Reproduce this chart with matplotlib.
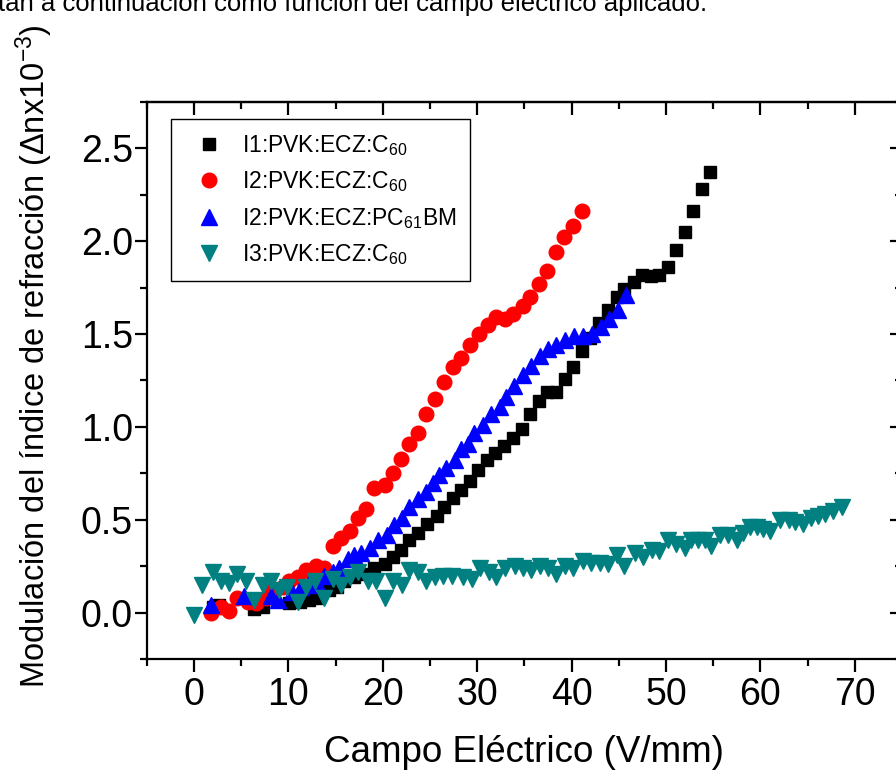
import numpy as np
import matplotlib
matplotlib.use("Agg")
import matplotlib.pyplot as plt
from matplotlib.ticker import MultipleLocator

plt.rcParams['font.family'] = ['Liberation Sans', 'DejaVu Sans']
plt.rcParams['mathtext.fontset'] = 'custom'
plt.rcParams['mathtext.rm'] = 'Liberation Sans'
plt.rcParams['mathtext.it'] = 'Liberation Sans:italic'
plt.rcParams['mathtext.bf'] = 'Liberation Sans:bold'

# I1:PVK:ECZ:C60 (black squares)
x_i1 = [2.0, 2.7, 6.4, 7.3, 10.1, 11.2, 12.2, 12.9, 14.3, 15.1, 15.9, 17.0, 18.2, 19.1,
        20.2, 21.1, 21.9, 22.8, 23.7, 24.7, 25.7, 26.5, 27.4, 28.3, 29.2, 30.1, 31.0,
        31.9, 32.8, 33.8, 34.7, 35.6, 36.5, 37.4, 38.4, 39.3, 40.2, 41.1, 42.0, 42.9,
        43.9, 44.8, 45.6, 46.6, 47.5, 48.4, 49.3, 50.2, 51.1, 52.0, 52.9, 53.8, 54.7]
y_i1 = [0.03, 0.04, 0.02, 0.03, 0.05, 0.06, 0.07, 0.08, 0.12, 0.14, 0.17, 0.19, 0.21, 0.24,
        0.26, 0.30, 0.34, 0.39, 0.43, 0.48, 0.52, 0.57, 0.62, 0.66, 0.71, 0.77, 0.82,
        0.86, 0.90, 0.94, 0.99, 1.07, 1.14, 1.19, 1.19, 1.26, 1.32, 1.41, 1.48, 1.56,
        1.63, 1.70, 1.74, 1.78, 1.82, 1.81, 1.82, 1.86, 1.95, 2.05, 2.16, 2.28, 2.37]

# I2:PVK:ECZ:C60 (red circles)
x_i2 = [1.8, 2.9, 3.7, 4.6, 5.7, 6.6, 7.6, 8.3, 9.4, 10.1, 11.0, 11.9, 12.9, 13.8,
        14.7, 15.6, 16.5, 17.4, 18.2, 19.1, 20.2, 21.1, 21.9, 22.8, 23.7, 24.6, 25.5,
        26.5, 27.4, 28.3, 29.2, 30.2, 31.1, 32.0, 32.9, 33.8, 34.8, 35.6, 36.5, 37.4,
        38.3, 39.2, 40.2, 41.1]
y_i2 = [0.00, 0.03, 0.01, 0.08, 0.06, 0.05, 0.08, 0.12, 0.14, 0.17, 0.19, 0.23, 0.25, 0.24,
        0.36, 0.40, 0.44, 0.51, 0.56, 0.67, 0.69, 0.75, 0.83, 0.91, 0.97, 1.07, 1.15,
        1.24, 1.32, 1.37, 1.44, 1.50, 1.55, 1.59, 1.58, 1.61, 1.65, 1.70, 1.77, 1.84,
        1.94, 2.02, 2.08, 2.16]

# I2:PVK:ECZ:PC61BM (blue triangles)
x_i2b = [1.8, 5.3, 8.2, 8.9, 10.4, 11.3, 12.1, 12.9, 13.8, 14.7, 15.4, 16.3, 17.0, 17.7,
         18.6, 19.5, 20.4, 21.2, 22.0, 22.8, 23.7, 24.6, 25.3, 26.0, 26.7, 27.6, 28.3,
         29.0, 29.7, 30.6, 31.5, 32.4, 33.0, 33.9, 34.9, 35.7, 36.6, 37.5, 38.4, 39.3,
         40.3, 41.2, 42.2, 43.1, 44.0, 44.9, 45.8]
y_i2b = [0.04, 0.09, 0.09, 0.07, 0.11, 0.14, 0.15, 0.17, 0.20, 0.22, 0.24, 0.29, 0.31, 0.32,
         0.35, 0.39, 0.42, 0.47, 0.51, 0.57, 0.61, 0.65, 0.70, 0.74, 0.78, 0.82, 0.88,
         0.91, 0.97, 1.01, 1.07, 1.11, 1.16, 1.22, 1.28, 1.33, 1.38, 1.42, 1.44, 1.47,
         1.49, 1.49, 1.50, 1.54, 1.58, 1.63, 1.71]

# I3:PVK:ECZ:C60 (teal down triangles)
x_i3 = [0.0, 0.9, 2.0, 2.9, 3.7, 4.6, 5.5, 6.4, 7.3, 8.2, 9.0, 9.9, 11.0, 11.9, 12.8,
        13.8, 14.7, 15.6, 16.5, 17.4, 18.4, 19.3, 20.2, 21.1, 22.0, 22.8, 23.7, 24.6,
        25.5, 26.4, 27.3, 28.5, 29.4, 30.3, 31.2, 32.0, 32.9, 34.0, 34.9, 35.7, 36.6,
        37.5, 38.4, 39.3, 40.2, 41.2, 42.1, 43.0, 43.9, 44.8, 45.6, 46.7, 47.6, 48.5,
        49.3, 50.2, 51.1, 52.0, 52.7, 53.4, 54.1, 54.8, 55.7, 56.6, 57.5, 58.2, 58.9,
        59.6, 60.3, 61.0, 62.1, 63.0, 63.7, 64.5, 65.4, 66.1, 66.8, 67.7, 68.6]
y_i3 = [-0.01, 0.15, 0.22, 0.17, 0.16, 0.21, 0.17, 0.07, 0.15, 0.17, 0.12, 0.14, 0.06, 0.14, 0.17,
        0.08, 0.18, 0.15, 0.19, 0.22, 0.17, 0.17, 0.08, 0.17, 0.15, 0.23, 0.22, 0.17,
        0.19, 0.20, 0.20, 0.19, 0.18, 0.24, 0.22, 0.19, 0.24, 0.25, 0.24, 0.23, 0.25,
        0.24, 0.21, 0.25, 0.24, 0.28, 0.27, 0.27, 0.26, 0.31, 0.25, 0.32, 0.30, 0.34,
        0.33, 0.39, 0.37, 0.35, 0.39, 0.39, 0.39, 0.36, 0.42, 0.42, 0.39, 0.43, 0.46,
        0.46, 0.45, 0.44, 0.50, 0.50, 0.49, 0.48, 0.51, 0.52, 0.53, 0.55, 0.57]

labels = [r'I1:PVK:ECZ:C$_{60}$', r'I2:PVK:ECZ:C$_{60}$',
          r'I2:PVK:ECZ:PC$_{61}$BM', r'I3:PVK:ECZ:C$_{60}$']

W, H = 896, 781
fig = plt.figure(figsize=(W / 100, H / 100), dpi=100)
ax = fig.add_axes([146.8 / W, 1 - 659.2 / H, (902 - 146.8) / W, (659.2 - 101.8) / H])

ax.plot(x_i1, y_i1, ls='none', marker='s', ms=9, color='black', label=labels[0])
ax.plot(x_i2, y_i2, ls='none', marker='o', ms=10.5, color='#ff0000', label=labels[1])
ax.plot(x_i2b, y_i2b, ls='none', marker='^', ms=11, color='#0000ff', label=labels[2])
ax.plot(x_i3, y_i3, ls='none', marker='v', ms=11.5, color='#008080', label=labels[3])

ax.set_xlim(-5, 75)
ax.set_ylim(-0.25, 2.75)
ax.xaxis.set_major_locator(MultipleLocator(10))
ax.xaxis.set_minor_locator(MultipleLocator(5))
ax.yaxis.set_major_locator(MultipleLocator(0.5))
ax.yaxis.set_minor_locator(MultipleLocator(0.25))
ax.yaxis.set_major_formatter(matplotlib.ticker.FormatStrFormatter('%.1f'))

for s in ax.spines.values():
    s.set_linewidth(1.6)
ax.tick_params(which='major', direction='out', length=9, width=1.6, labelsize=27)
ax.tick_params(which='minor', direction='out', length=5, width=1.6)
ax.tick_params(axis='x', which='major', pad=4)
ax.tick_params(axis='y', which='major', pad=1)

# inward ticks on top and right
top = ax.secondary_xaxis('top')
top.xaxis.set_major_locator(MultipleLocator(10))
top.xaxis.set_minor_locator(MultipleLocator(5))
top.tick_params(which='major', direction='in', length=9, width=1.6, labeltop=False)
top.tick_params(which='minor', direction='in', length=5, width=1.6)
top.spines['top'].set_linewidth(1.6)
right = ax.secondary_yaxis('right')
right.yaxis.set_major_locator(MultipleLocator(0.5))
right.yaxis.set_minor_locator(MultipleLocator(0.25))
right.tick_params(which='major', direction='in', length=9, width=1.6, labelright=False)
right.tick_params(which='minor', direction='in', length=5, width=1.6)
right.spines['right'].set_linewidth(1.6)

leg = ax.legend(loc='upper left', bbox_to_anchor=(0.032, 0.9686), borderaxespad=0,
                fontsize=16.5, frameon=True, fancybox=False, framealpha=1,
                handletextpad=0.4, labelspacing=0.5, borderpad=0.6, handlelength=2.1)
leg.get_frame().set_edgecolor('black')
leg.get_frame().set_linewidth(1.0)

fig.text(524 / W, 1 - 752 / H, 'Campo Eléctrico (V/mm)',
         fontsize=26.5, ha='center', va='center')
fig.text(34 / W, 1 - 688 / H,
         r'Modulación del índice de refracción (Δnx10$^{-3}$)',
         fontsize=23.5, rotation=90, ha='center', va='bottom')
fig.text(-2 / W, 1 - 11 / H, 'tan a continuación como función del campo eléctrico aplicado.',
         fontsize=18.5, ha='left', va='baseline')

fig.savefig('out.png', dpi=100)
